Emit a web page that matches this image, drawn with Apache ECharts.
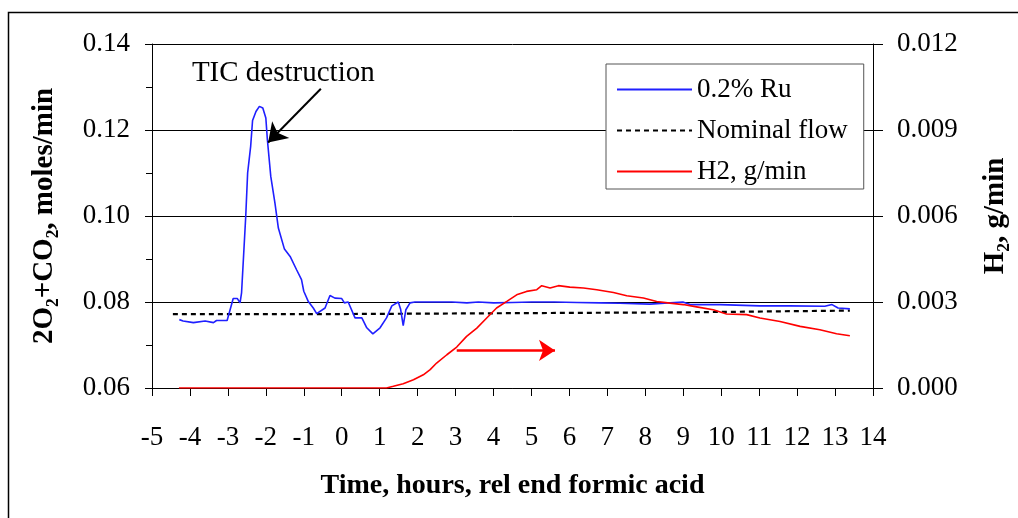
<!DOCTYPE html>
<html>
<head>
<meta charset="utf-8">
<script src="https://cdn.jsdelivr.net/npm/echarts@6/dist/echarts.min.js"></script>
<style>
html,body{margin:0;padding:0;background:#fff;}
#chart{width:1018px;height:518px;}
</style>
</head>
<body>
<div id="chart"></div>
<script>
// ---- data ----
var xTicks = [-5, -4, -3, -2, -1, 0, 1, 2, 3, 4, 5, 6, 7, 8, 9, 10, 11, 12, 13, 14];
var ruTime = [-4.28,-4.18,-3.91,-3.60,-3.38,-3.30,-3.02,-2.86,-2.75,-2.68,-2.64,-2.53,-2.48,-2.40,-2.35,-2.26,-2.17,-2.08,-2.00,-1.96,-1.87,-1.76,-1.67,-1.51,-1.36,-1.19,-1.06,-1.00,-0.88,-0.75,-0.66,-0.44,-0.31,-0.18,0.00,0.07,0.17,0.35,0.53,0.66,0.82,1.01,1.18,1.32,1.49,1.55,1.62,1.69,1.80,1.93,2.40,2.90,3.30,3.60,4.00,4.50,5.00,5.60,6.20,6.81,7.33,8.12,8.99,9.18,9.97,11.02,11.81,12.73,12.92,13.08,13.39];
var ruValue = [0.0759,0.0756,0.0752,0.0756,0.0752,0.0757,0.0757,0.0808,0.0808,0.0798,0.0821,0.0999,0.1100,0.1162,0.1222,0.1243,0.1255,0.1251,0.1228,0.1178,0.1092,0.1030,0.0972,0.0923,0.0906,0.0875,0.0852,0.0825,0.0801,0.0786,0.0773,0.0786,0.0815,0.0809,0.0808,0.0798,0.0800,0.0763,0.0763,0.0740,0.0726,0.0740,0.0763,0.0791,0.0800,0.0784,0.0745,0.0782,0.0798,0.0800,0.0800,0.0800,0.0798,0.0800,0.0798,0.0799,0.0800,0.0800,0.0799,0.0798,0.0797,0.0795,0.0800,0.0794,0.0794,0.0791,0.0791,0.0790,0.0794,0.0786,0.0784];
var nominalTime = [-4.45, 0.06, 0.06, 9.0, 9.0, 13.39];
var nominalValue = [0.0772, 0.0772, 0.0776, 0.0776, 0.0780, 0.0780];
var h2Time = [-4.29,1.09,1.18,1.36,1.62,1.89,2.15,2.33,2.50,2.77,3.03,3.29,3.56,3.82,4.08,4.35,4.61,4.87,5.14,5.27,5.49,5.71,6.01,6.37,6.72,7.16,7.51,7.95,8.30,8.65,9.00,9.35,9.79,10.14,10.67,11.02,11.55,12.08,12.60,13.04,13.39];
var h2Value = [0,0,0,0.00006,0.00015,0.00029,0.00046,0.00064,0.00087,0.00116,0.00143,0.00180,0.00209,0.00244,0.00279,0.00302,0.00325,0.00337,0.00343,0.00357,0.00349,0.00357,0.00352,0.00349,0.00343,0.00333,0.00322,0.00314,0.00302,0.00296,0.00291,0.00283,0.00273,0.00258,0.00256,0.00244,0.00232,0.00215,0.00203,0.00189,0.00182];
var ticArrow = [[-0.55, 0.1296], [-1.94, 0.1171]];
var ticLabelPos = [-1.54, 0.1331];
var h2Arrow = [[3.03, 0.00131], [5.62, 0.00131]];

function zip(a, b){ return a.map(function(v,i){ return [v, b[i]]; }); }

var FONT = '"Liberation Serif", "Times New Roman", serif';
var chart = echarts.init(document.getElementById('chart'));
chart.setOption({
  backgroundColor: '#fff',
  animation: false,
  textStyle: { fontFamily: FONT, color: '#000' },
  graphic: [{
    type: 'rect', shape: { x: 8.5, y: 12.5, width: 1030, height: 530 },
    style: { fill: null, stroke: '#000', lineWidth: 1.5 }, silent: true, z: -1
  }],
  grid: { left: 152, right: 145, top: 44, bottom: 130 },
  legend: {
    orient: 'vertical',
    left: 606, top: 64,
    itemWidth: 75, itemHeight: 14,
    itemGap: 14,
    padding: [12, 16, 4, 10],
    backgroundColor: '#fff',
    borderColor: '#555', borderWidth: 1,
    itemStyle: { opacity: 0 },
    textStyle: { fontFamily: FONT, fontSize: 27, color: '#000' },
    data: ['0.2% Ru', 'Nominal flow', 'H2, g/min']
  },
  xAxis: {
    type: 'value', min: -5, max: 14, interval: 1,
    name: 'Time, hours, rel end formic acid',
    nameLocation: 'middle', nameGap: 84,
    nameTextStyle: { fontFamily: FONT, fontSize: 28, fontWeight: 'bold', color: '#000' },
    axisLine: { show: true, onZero: false, lineStyle: { color: '#000', width: 1 } },
    axisTick: { show: true, length: 8, lineStyle: { color: '#000' } },
    axisLabel: { fontFamily: FONT, fontSize: 27, color: '#000', margin: 36,
      formatter: function(v){ return xTicks.indexOf(v) >= 0 ? String(v) : ''; } },
    splitLine: { show: false }
  },
  yAxis: [{
    type: 'value', min: 0.06, max: 0.14, interval: 0.02, position: 'left',
    name: '2O\u2082+CO\u2082, moles/min',
    nameLocation: 'middle', nameGap: 93, nameRotate: 90,
    nameTextStyle: { fontFamily: FONT, fontSize: 29, fontWeight: 'bold', color: '#000' },
    axisLine: { show: true, onZero: false, lineStyle: { color: '#000', width: 1 } },
    axisTick: { show: true, length: 7, lineStyle: { color: '#000' } },
    minorTick: { show: true, splitNumber: 2, length: 6, lineStyle: { color: '#000' } },
    axisLabel: { fontFamily: FONT, fontSize: 27, color: '#000', margin: 22,
      formatter: function(v){ return v.toFixed(2); } },
    splitLine: { show: true, lineStyle: { color: '#000', width: 1 } }
  }, {
    type: 'value', min: 0, max: 0.012, interval: 0.003, position: 'right',
    name: 'H\u2082, g/min',
    nameLocation: 'middle', nameGap: 108, nameRotate: 90,
    nameTextStyle: { fontFamily: FONT, fontSize: 29, fontWeight: 'bold', color: '#000' },
    axisLine: { show: true, onZero: false, lineStyle: { color: '#000', width: 1 } },
    axisTick: { show: true, length: 10, lineStyle: { color: '#000' } },
    axisLabel: { fontFamily: FONT, fontSize: 27, color: '#000', margin: 24,
      formatter: function(v){ return v.toFixed(3); } },
    splitLine: { show: false }
  }],
  series: [{
    name: '0.2% Ru', type: 'line', yAxisIndex: 0, symbol: 'none',
    data: zip(ruTime, ruValue),
    lineStyle: { color: '#1f1fff', width: 1.6 }, itemStyle: { color: '#1f1fff' },
    z: 4,
    markLine: {
      silent: true, symbol: ['none', 'arrow'], symbolSize: 18,
      lineStyle: { color: '#000', width: 2, type: 'solid' },
      label: { show: false },
      data: [[{ coord: ticArrow[0] }, { coord: ticArrow[1] }]]
    },
    markPoint: {
      silent: true, symbol: 'rect', symbolSize: 1,
      itemStyle: { color: 'rgba(0,0,0,0)' },
      label: { show: true, position: 'inside', formatter: 'TIC destruction',
        fontFamily: FONT, fontSize: 29, color: '#000' },
      data: [{ coord: ticLabelPos }]
    }
  }, {
    name: 'Nominal flow', type: 'line', yAxisIndex: 0, symbol: 'none',
    data: zip(nominalTime, nominalValue),
    lineStyle: { color: '#000', width: 2.2, type: [5, 4] }, itemStyle: { color: '#000' },
    z: 3
  }, {
    name: 'H2, g/min', type: 'line', yAxisIndex: 1, symbol: 'none',
    data: zip(h2Time, h2Value),
    lineStyle: { color: '#ff0000', width: 1.6 }, itemStyle: { color: '#ff0000' },
    z: 5,
    markLine: {
      silent: true, symbol: ['none', 'arrow'], symbolSize: 16,
      lineStyle: { color: '#ff0000', width: 2.5, type: 'solid' },
      label: { show: false },
      data: [[{ coord: h2Arrow[0] }, { coord: h2Arrow[1] }]]
    }
  }]
});
</script>
</body>
</html>
